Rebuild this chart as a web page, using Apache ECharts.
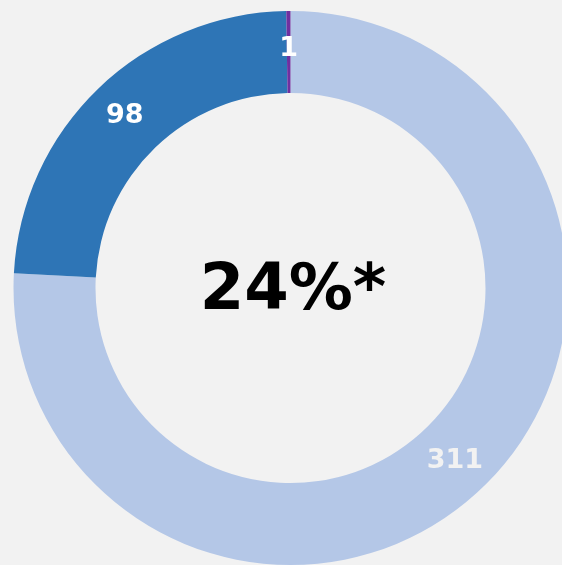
<!DOCTYPE html>
<html>
<head>
<meta charset="utf-8">
<script src="https://cdn.jsdelivr.net/npm/echarts@6/dist/echarts.min.js"></script>
<style>
  html, body { margin: 0; padding: 0; background: #f2f2f2; }
  #main { width: 562px; height: 565px; }
</style>
</head>
<body>
<div id="main"></div>
<script>
var names = ['A', 'B', 'C'];
var values = [311, 98, 1];
var colors = ['#b4c7e7', '#2e75b6', '#7030a0'];
var labelColors = ['#f2f2f2', '#ffffff', '#ffffff'];
var centerText = '24%*';

var chart = echarts.init(document.getElementById('main'), null, { renderer: 'canvas' });

var data = values.map(function (v, i) {
  return {
    value: v,
    name: names[i],
    itemStyle: { color: colors[i] },
    label: { color: labelColors[i] }
  };
});

var option = {
  backgroundColor: '#f2f2f2',
  animation: false,
  title: {
    text: centerText,
    left: 288,
    top: 287,
    textAlign: 'center',
    textVerticalAlign: 'middle',
    textStyle: {
      fontFamily: 'DejaVu Sans',
      fontWeight: 'bold',
      fontSize: 64,
      color: '#000'
    }
  },
  series: [{
    type: 'pie',
    center: [290.5, 288],
    radius: [195, 277],
    startAngle: 90,
    clockwise: true,
    avoidLabelOverlap: false,
    label: {
      show: true,
      position: 'inside',
      formatter: '{c}',
      fontFamily: 'DejaVu Sans',
      fontWeight: 'bold',
      fontSize: 27
    },
    labelLine: { show: false },
    itemStyle: { borderWidth: 0 },
    emphasis: { disabled: true },
    data: data
  }]
};

chart.setOption(option);
</script>
</body>
</html>
